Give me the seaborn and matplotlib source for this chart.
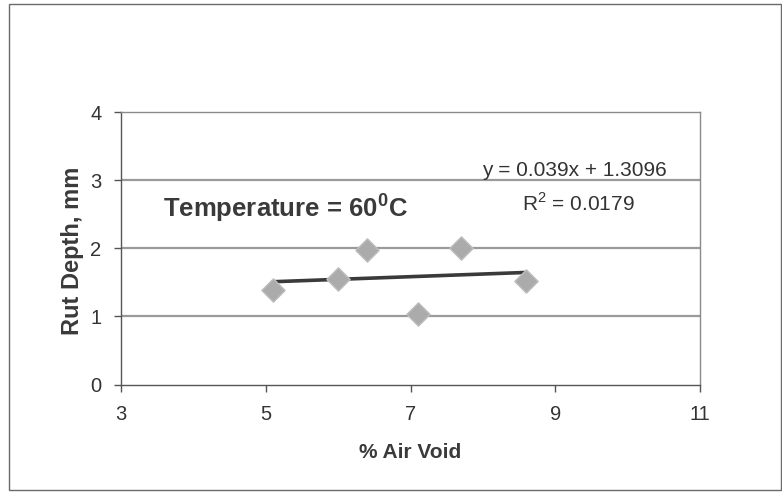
import matplotlib
matplotlib.use("Agg")
import matplotlib.pyplot as plt
import numpy as np
import pandas as pd
import seaborn as sns
from matplotlib.patches import Rectangle

# Rut depth vs. air void content at 60 °C
air_void = [5.1, 6.0, 6.4, 7.1, 7.7, 8.6]
rut_depth = [1.38, 1.55, 1.98, 1.04, 2.01, 1.52]

# Linear trendline as reported on the chart
slope = 0.039
intercept = 1.3096
r_squared = 0.0179

x_ticks = [3, 5, 7, 9, 11]
y_ticks = [0, 1, 2, 3, 4]

sns.set_theme(style="white")
plt.rcParams["font.family"] = ["Liberation Sans", "DejaVu Sans"]

W, H = 782, 494

df = pd.DataFrame({"air_void": air_void, "rut_depth": rut_depth})
trend_x = np.array([min(air_void), max(air_void)])
trend = pd.DataFrame({"x": trend_x, "y": slope * trend_x + intercept})

fig = plt.figure(figsize=(W / 100, H / 100), dpi=100)
fig.patch.set_facecolor("white")

# outer chart frame
fig.patches.append(Rectangle((9 / W, 4 / H), 772 / W, 486 / H,
                             transform=fig.transFigure, fill=False,
                             edgecolor="#6a6a6a", linewidth=1.0))

ax = fig.add_axes([121 / W, 1 - 384.5 / H, 579 / W, 272.5 / H])
ax.set_facecolor("white")

for y in y_ticks[1:-1]:
    ax.axhline(y, color="#9a9a9a", linewidth=1.6, zorder=1)

sns.lineplot(data=trend, x="x", y="y", ax=ax, color="#3a3a3a",
             linewidth=2.6, zorder=3)
sns.scatterplot(data=df, x="air_void", y="rut_depth", ax=ax, marker="D",
                s=140, color="#ababab", edgecolor="#bdbdbd", linewidth=1.0,
                zorder=4)

ax.set_xlim(3, 11)
ax.set_ylim(0, 4)
ax.set_xticks(x_ticks)
ax.set_yticks(y_ticks)
ax.tick_params(axis="both", which="major", direction="out", length=5,
               width=1, color="#555555", labelsize=14.5, labelcolor="#333333",
               left=True, bottom=True)
ax.tick_params(axis="x", pad=10)
ax.tick_params(axis="y", pad=9)

for side in ["left", "bottom"]:
    ax.spines[side].set_color("#555555")
    ax.spines[side].set_linewidth(1.0)
for side in ["top", "right"]:
    ax.spines[side].set_color("#8a8a8a")
    ax.spines[side].set_linewidth(1.0)

ax.set_xlabel("% Air Void", fontsize=15, fontweight="bold", color="#3a3a3a")
ax.set_ylabel("Rut Depth, mm", fontsize=17, fontweight="bold",
              color="#3a3a3a")
ax.xaxis.label.set_va("center")
ax.yaxis.label.set_va("center")
ax.xaxis.set_label_coords((410 - 121) / 579, (384.5 - 452) / 272.5)
ax.yaxis.set_label_coords((72 - 121) / 579, (384.5 - 251) / 272.5)

fig.text(163 / W, 1 - 208 / H, "Temperature = 60$^{\\mathregular{0}}$C",
         fontsize=18.5, fontweight="bold", color="#3a3a3a", va="center",
         ha="left")
fig.text(574 / W, 1 - 170 / H, f"y = {slope}x + {intercept}",
         fontsize=15, color="#333333", ha="center", va="center")
fig.text(578 / W, 1 - 203 / H, f"R$^{{\\mathregular{{2}}}}$ = {r_squared}",
         fontsize=15, color="#333333", ha="center", va="center")

fig.savefig("out.png", dpi=100, facecolor="white")
